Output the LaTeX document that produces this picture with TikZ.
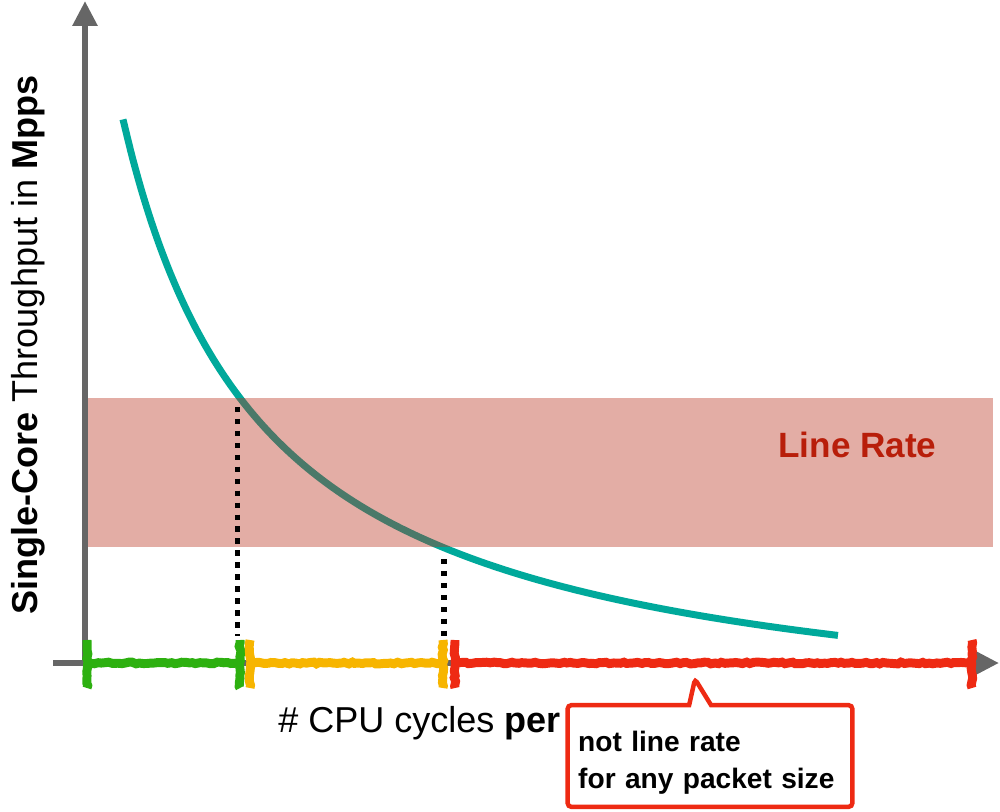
\documentclass[tikz,border=0pt]{standalone}
\usepackage{fontspec}
\setmainfont{Liberation Sans}
\usetikzlibrary{arrows.meta, shapes.callouts, decorations.pathmorphing}
\definecolor{axisgray}{HTML}{666666}
\definecolor{curveteal}{HTML}{00A99B}
\definecolor{bandred}{RGB}{185,50,30}
\definecolor{ratered}{HTML}{B81E0A}
\definecolor{cpugreen}{HTML}{2DB010}
\definecolor{cpuyellow}{HTML}{F7B500}
\definecolor{cpured}{HTML}{EE2A13}
\def\px{0.5669pt}
\def\axisy{663}

\begin{document}
\begin{tikzpicture}[x=0.02cm, y=-0.02cm]
    \tikzstyle{axis}=[draw=axisgray, line width=6*\px, -{Triangle[width=13.6pt,length=14.2pt]}]
    \tikzstyle{curve}=[draw=curveteal, line width=7*\px]
    \tikzstyle{drop}=[draw=black, line width=3.1pt, dash pattern=on 3.1pt off 3.7pt]
    \tikzstyle{rough}=[decorate, decoration={random steps, segment length=2pt, amplitude=0.5pt}]
    \tikzstyle{cyclerange}=[rough, line width=9*\px]
    \tikzstyle{axislabel}=[inner sep=0pt, font=\fontsize{20.5}{24}\selectfont]
    \tikzstyle{ratelabel}=[inner sep=0pt, text=ratered, font=\fontsize{20}{24}\selectfont\bfseries]
    \tikzstyle{note}=[rectangle callout, draw=cpured, fill=white, line width=4.5*\px,
        rounded corners=2pt, callout pointer width=0.44cm,
        minimum width=162pt, minimum height=57.8pt, inner xsep=5.7pt,
        text width=150pt, align=left, font=\fontsize{16}{21}\selectfont\bfseries]

    \useasboundingbox (0,0) rectangle (1000,811);

    % Axes
    \draw[axis] (85,666) -- (85,1);
    \draw[axis] (53,\axisy) -- (999,\axisy);

    % Throughput curve
    \draw[curve] plot[domain=1.23:8.38, samples=80, smooth] ({\x*100},{738.6-885.46/(\x+0.2)});

    % Line rate band, laid over the curve
    \fill[bandred, fill opacity=0.4] (88,398) rectangle (993,547);
    \node[ratelabel, anchor=base west] (rate) at (778,457) {Line Rate};

    % Where the curve enters and leaves the band
    \coordinate (hi) at (237.5,407);
    \coordinate (lo) at (444,559);
    \coordinate (foot) at (0,636);
    \draw[drop] (hi) -- (hi |- foot);
    \draw[drop] (lo) -- (lo |- foot);

    % Cycle ranges on the x axis
    \foreach \col/\a/\b in {cpugreen/87/240, cpuyellow/250/443, cpured/455/972} {
        \draw[cyclerange, \col] (\a,\axisy) -- (\b,\axisy);
        \draw[cyclerange, \col] (\a,640) -- (\a,688);
        \draw[cyclerange, \col] (\b,640) -- (\b,688);
    }

    % Axis labels
    \node[axislabel, anchor=base west] (xlab) at (278,732) {\# CPU cycles \textbf{per}};
    \node[axislabel, rotate=90, anchor=base] (ylab) at (37,345) {\textbf{Single-Core} Throughput in \textbf{Mpps}};

    % Note on the red range
    \coordinate (redmid) at (695,679);
    \node[note, callout absolute pointer={(redmid)}] (callout) at (710,756) {\rule{0pt}{19.5pt}not line rate\\for any packet size};
\end{tikzpicture}
\end{document}
